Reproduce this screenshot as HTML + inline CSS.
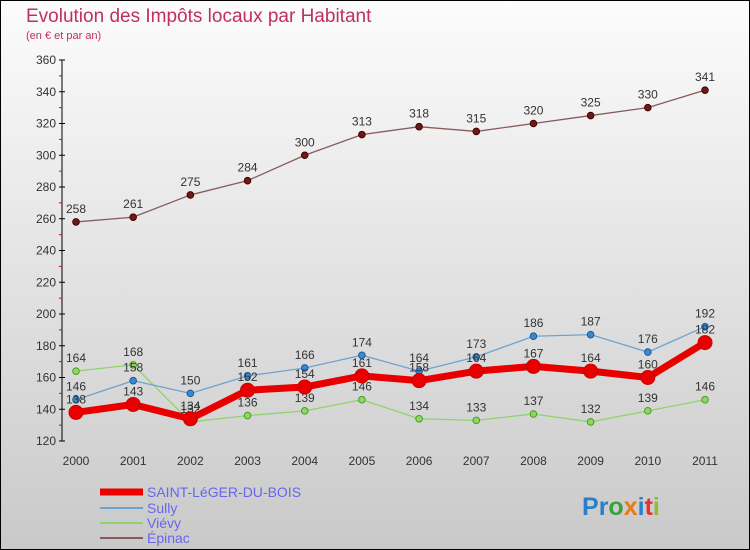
<!DOCTYPE html>
<html><head><meta charset="utf-8"><style>
body{margin:0;}
#c{width:750px;height:550px;position:relative;font-family:"Liberation Sans",sans-serif;}
svg{display:block}
</style></head><body>
<div id="c">
<svg id="s" width="750" height="550" xmlns="http://www.w3.org/2000/svg">
<defs><linearGradient id="bg" x1="0" y1="0" x2="0" y2="1"><stop offset="0" stop-color="#fcfcfc"/><stop offset="1" stop-color="#c9c9c9"/></linearGradient></defs>
<rect x="0.5" y="0.5" width="749" height="549" fill="url(#bg)" stroke="#000"/>
<text x="26" y="22" font-size="19" fill="#c0305a">Evolution des Impôts locaux par Habitant</text>
<text x="26" y="39" font-size="11" fill="#c0305a">(en € et par an)</text>
<g id="axes"></g><g id="series"></g>
<g>
<line x1="100" y1="492" x2="143" y2="492" stroke="#e00" stroke-width="7"/>
<text x="147" y="497" font-size="14" fill="#6666ee">SAINT-LéGER-DU-BOIS</text>
<line x1="100" y1="508" x2="143" y2="508" stroke="#6fa3cf" stroke-width="2"/>
<text x="147" y="513" font-size="14" fill="#6666ee">Sully</text>
<line x1="100" y1="523" x2="143" y2="523" stroke="#8fd468" stroke-width="2"/>
<text x="147" y="528" font-size="14" fill="#6666ee">Viévy</text>
<line x1="100" y1="538" x2="143" y2="538" stroke="#8a5a5a" stroke-width="2"/>
<text x="147" y="543" font-size="14" fill="#6666ee">Épinac</text>
</g>
<text x="582" y="515" font-size="25" font-weight="bold"><tspan fill="#2a7fc8">P</tspan><tspan fill="#2a7fc8">r</tspan><tspan fill="#3aa040">o</tspan><tspan fill="#e87a10">x</tspan><tspan fill="#2a7fc8">i</tspan><tspan fill="#e83030">t</tspan><tspan fill="#8ac030">i</tspan></text>
</svg></div>
<script>
const years=["2000","2001","2002","2003","2004","2005","2006","2007","2008","2009","2010","2011"];
const yTicks=[120,140,160,180,200,220,240,260,280,300,320,340,360];
const epinac=[258,261,275,284,300,313,318,315,320,325,330,341];
const sully=[146,158,150,161,166,174,164,173,186,187,176,192];
const vievy=[164,168,132,136,139,146,134,133,137,132,139,146];
const saintLeger=[138,143,134,152,154,161,158,164,167,164,160,182];
const NS="http://www.w3.org/2000/svg";
const X=i=>76+i*(705-76)/11;
const Y=v=>441-(v-120)*(381/240);
function mk(t,a,p){const e=document.createElementNS(NS,t);for(const k in a)e.setAttribute(k,a[k]);p.appendChild(e);return e;}
const ax=document.getElementById('axes');
const axl=mk('line',{x1:62,y1:60,x2:62,y2:441,stroke:'#000'},ax);


yTicks.forEach(v=>{
 const l=mk('line',{x1:59,y1:Y(v),x2:65,y2:Y(v),stroke:'#000'},ax);
 
 
 if(v<360){const m=mk('line',{x1:59,y1:Y(v+10),x2:62,y2:Y(v+10),stroke:'#e00'},ax);
 
 }
 const t=mk('text',{x:56,y:Y(v)+4,'font-size':12,fill:'#333','text-anchor':'end'},ax);t.textContent=v;
 
 
});
years.forEach((y,i)=>{
 const t=mk('text',{x:X(i),y:465,'font-size':12,fill:'#333','text-anchor':'middle'},ax);t.textContent=y;
 
 
});
const sg=document.getElementById('series');
function series(name,data,color,w,r,dot,stroke){
 const g=mk('g',{},sg);
 
 
 const pl=mk('polyline',{points:data.map((v,i)=>X(i)+','+Y(v)).join(' '),fill:'none',stroke:color,'stroke-width':w,'stroke-linejoin':'round'},g);
 
 
 data.forEach((v,i)=>{
  const c=mk('circle',{cx:X(i),cy:Y(v),r:r,fill:dot,stroke:stroke,'stroke-width':1},g);
  
  
  const t=mk('text',{x:X(i),y:Y(v)-9,'font-size':12,fill:'#333','text-anchor':'middle'},g);t.textContent=v;
  
  
 });
}
series('epinac',epinac,'#8a5a5a',1.3,3.3,'#6b1a1a','#400');
series('vievy',vievy,'#8fd468',1.3,3.3,'#8fd860','#4a9a2a');
series('sully',sully,'#6fa3cf',1.3,3.3,'#3a8ad0','#1a5a9a');
series('saint-leger',saintLeger,'#e80000',7,7,'#e80000','#c00');
</script>
</body></html>
